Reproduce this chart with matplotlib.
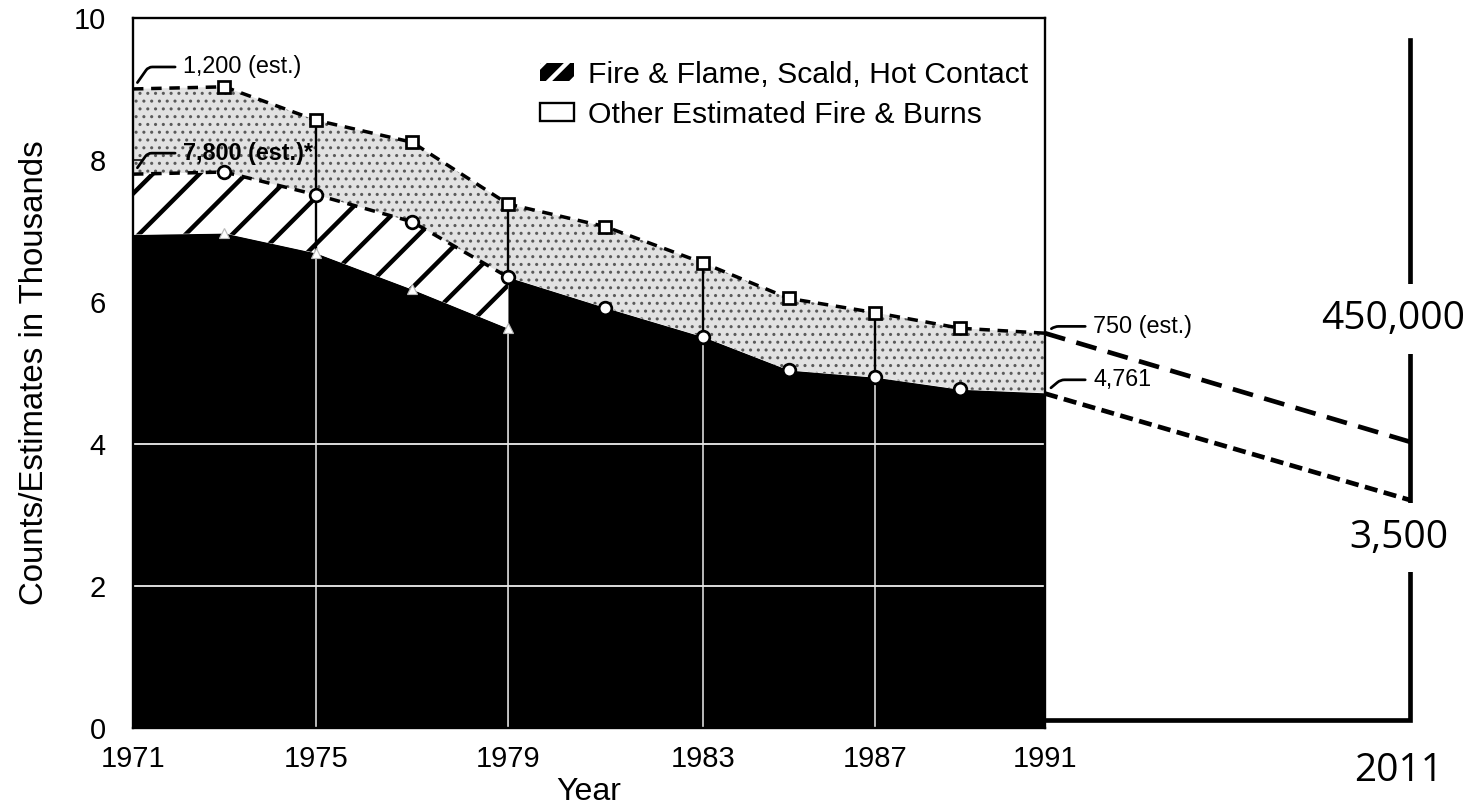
import numpy as np
import matplotlib
matplotlib.use('Agg')
import matplotlib.pyplot as plt
from matplotlib.patches import Patch

plt.rcParams['font.family'] = ['Liberation Sans', 'DejaVu Sans']

# values in thousands
years = [1971, 1973, 1975, 1977, 1979, 1981, 1983, 1985, 1987, 1989, 1991]
total_est = [9.00, 9.03, 8.56, 8.25, 7.38, 7.06, 6.55, 6.05, 5.85, 5.63, 5.56]
counted = [7.80, 7.83, 7.51, 7.13, 6.35, 5.92, 5.51, 5.04, 4.94, 4.77, 4.72]
early_years = [1971, 1973, 1975, 1977, 1979]
other_counted = [6.95, 6.97, 6.69, 6.18, 5.63]
marked_years = [1975, 1979, 1983, 1987]
year_ticks = [1971, 1975, 1979, 1983, 1987, 1991]
legend_labels = ['Fire & Flame, Scald, Hot Contact', 'Other Estimated Fire & Burns']

# hand-drawn projection added on the right
proj_years = [1991, 2011]
proj_high = [5.56, 4.03]
proj_low = [4.71, 3.21]
proj_labels = ['450,000', '3,500', '2011']

late_years = years[4:]
late_counted = counted[4:]

# the scanned year axis is not quite even; pixel spacing of the printed ticks
tick_px = [0, 183, 375, 570, 742, 912]


def fwd(x):
    x = np.asarray(x, dtype=float)
    out = np.interp(x, year_ticks, tick_px)
    out = np.where(x < year_ticks[0], tick_px[0] + (x - year_ticks[0]) * 45.6, out)
    return np.where(x > year_ticks[-1], tick_px[-1] + (x - year_ticks[-1]) * 45.6, out)


def inv(p):
    p = np.asarray(p, dtype=float)
    out = np.interp(p, tick_px, year_ticks)
    out = np.where(p < tick_px[0], year_ticks[0] + (p - tick_px[0]) / 45.6, out)
    return np.where(p > tick_px[-1], year_ticks[-1] + (p - tick_px[-1]) / 45.6, out)


plt.rcParams['hatch.linewidth'] = 2.3

fig = plt.figure(figsize=(1477 / 140, 805 / 140), dpi=140)
ax = fig.add_axes([0.0900, 0.0957, 0.6175, 0.8820])
ax.set_xscale('function', functions=(fwd, inv))
ax.set_xlim(1971, 1991)
ax.set_ylim(0, 10)

# black base
ax.fill_between(early_years, 0, other_counted, color='black', lw=0, zorder=1)
ax.fill_between(late_years, 0, late_counted, color='black', lw=0, zorder=1)
# hatched band
ax.fill_between(early_years, other_counted, counted[:5], facecolor='white',
                edgecolor='black', hatch='/', lw=0, zorder=1)
# stippled band
with plt.rc_context({'hatch.linewidth': 0.8}):
    ax.fill_between(years, counted, total_est, facecolor='#e2e2e2',
                    edgecolor='#5a5a5a', hatch='...', lw=0, zorder=1)

for v in [2, 4]:
    ax.axhline(v, color='#dcdcdc', lw=1.0, zorder=2)

for yr in marked_years:
    top = total_est[years.index(yr)]
    if yr in early_years:
        white_top = other_counted[early_years.index(yr)]
    else:
        white_top = counted[years.index(yr)]
    if yr < 1979:
        black_low = other_counted[early_years.index(yr)]
    else:
        black_low = counted[years.index(yr)]
    ax.vlines(yr, 0, white_top, color='#e8e8e8', lw=0.8, zorder=2)
    ax.vlines(yr, black_low, top, color='black', lw=1.2, zorder=2)

ax.plot(years, total_est, color='black', lw=1.8, ls=(0, (3, 2.2)), zorder=3)
ax.plot(early_years, counted[:5], color='black', lw=1.8, ls=(0, (3, 2.2)), zorder=3)

ax.plot(years[1:-1], total_est[1:-1], 's', ms=6.5, mfc='white', mec='black',
        mew=1.4, zorder=4)
ax.plot(years[1:-1], counted[1:-1], 'o', ms=6.5, mfc='white', mec='black',
        mew=1.4, zorder=4)
ax.plot(early_years[1:], other_counted[1:], '^', ms=5, mfc='white',
        mec='#bbbbbb', mew=0.6, zorder=4)

notes = [
    ('1,200 (est.)', years[0], total_est[0], 25.7, 11.3, 55, 'normal'),
    ('7,800 (est.)*', years[0], counted[0], 25.7, 10.8, 55, 'bold'),
    ('750 (est.)', years[-1], total_est[-1], 24.7, 3.5, 35, 'normal'),
    ('4,761', years[-1], counted[-1], 24.7, 6.7, 40, 'normal'),
]
for text, x, y, dx, dy, ang, weight in notes:
    ax.annotate(text, xy=(x, y), xytext=(dx, dy), textcoords='offset points',
                ha='left', va='center', fontsize=12, fontweight=weight,
                annotation_clip=False, zorder=5,
                arrowprops=dict(arrowstyle='-', lw=1.4, color='black',
                                relpos=(0, 0.5), shrinkA=2, shrinkB=4,
                                connectionstyle=f'angle,angleA=0,angleB={ang},rad=4'))

handles = [Patch(facecolor='black', edgecolor='white', hatch='//', lw=0),
           Patch(facecolor='white', edgecolor='black', lw=1.2)]
ax.legend(handles, legend_labels, loc='upper left', bbox_to_anchor=(0.446, 0.94),
          frameon=False, fontsize=15.5, borderpad=0, borderaxespad=0,
          handlelength=1.15, handleheight=0.55, handletextpad=0.45,
          labelspacing=0.4)

ax.set_xticks(year_ticks)
ax.set_xticklabels([str(y) for y in year_ticks])
ax.set_yticks([0, 2, 4, 6, 8, 10])
ax.tick_params(axis='x', length=0, pad=9, labelsize=15)
ax.tick_params(axis='y', direction='in', length=5, pad=14, labelsize=15)
ax.set_xlabel('Year', fontsize=16.5, labelpad=2)
ax.set_ylabel('Counts/Estimates in Thousands', fontsize=17, labelpad=12)
for s in ax.spines.values():
    s.set_linewidth(1.2)

# overlay to the right
ax2 = fig.add_axes([0.7075, 0.0957, 0.2925, 0.8820])
ax2.set_xlim(1991, 1991 + 20 * 432 / 365)
ax2.set_ylim(0, 10)
ax2.axis('off')
ax2.patch.set_alpha(0)
ax2.plot([proj_years[0], proj_years[1], proj_years[1]], [0.11, 0.11, 9.69],
         color='black', lw=2.4, solid_joinstyle='miter', clip_on=False)
ax2.plot(proj_years, proj_high, color='black', lw=2.4, ls=(0, (4.5, 2.5)))
ax2.plot(proj_years, proj_low, color='black', lw=2.4, ls=(0, (2.8, 1.4)))
for text, x, y in zip(proj_labels, [2010.1, 2010.4, 2010.4], [5.76, 2.68, -0.6]):
    ax2.text(x, y, text, ha='center', va='center', fontsize=20,
             family=['Open Sans', 'DejaVu Sans'], clip_on=False,
             bbox=dict(facecolor='white', edgecolor='none', pad=8))

fig.savefig('out.png', dpi=140)
